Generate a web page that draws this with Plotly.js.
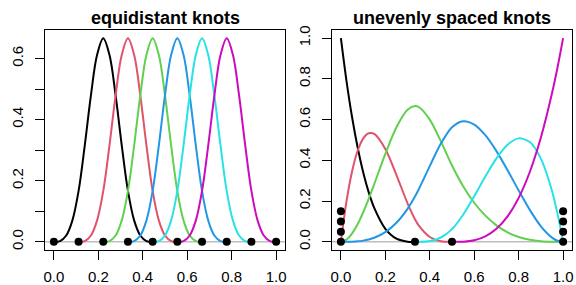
<!DOCTYPE html>
<html>
<head>
<meta charset="utf-8">
<script src="https://cdn.plot.ly/plotly-3.0.1.min.js"></script>
<style>html,body{margin:0;padding:0;background:#fff;}#chart{width:576px;height:285px;}</style>
</head>
<body>
<div id="chart"></div>
<script>
// ---------- data ----------
var seriesColors = ["#000000", "#DF536B", "#61D04F", "#2297E6", "#28E2E5", "#CD0BBC"];

// Left panel: equidistant knots
var eqKnots = [0, 0.1111, 0.2222, 0.3333, 0.4444, 0.5556, 0.6667, 0.7778, 0.8889, 1];
// one basis curve read at quarter knot spacing across its 4-interval support
var eqProfile = [0, 0.0026, 0.0208, 0.0703, 0.1667, 0.3151, 0.4792, 0.6120, 0.6667,
                 0.6120, 0.4792, 0.3151, 0.1667, 0.0703, 0.0208, 0.0026, 0];
var eqStartKnot = [0, 1, 2, 3, 4, 5];

// Right panel: unevenly spaced knots (repeated boundary knots)
var unKnotsX = [0, 0, 0, 0, 0.3333, 0.5, 1, 1, 1, 1];
var unKnotsY = [0, 0.05, 0.10, 0.15, 0, 0, 0, 0.05, 0.10, 0.15];
var unX = [0, 0.025, 0.05, 0.075, 0.1, 0.125, 0.15, 0.2, 0.25, 0.3, 0.3333, 0.35, 0.4, 0.45, 0.5,
           0.55, 0.6, 0.65, 0.7, 0.75, 0.8, 0.85, 0.9, 0.95, 0.975, 1];
var unB1 = [1, 0.7915, 0.6141, 0.4655, 0.343, 0.2441, 0.1664, 0.064, 0.0156, 0.001, 0,
            null, null, null, null, null, null, null, null, null, null, null, null, null, null, null];
var unB2 = [0, 0.1978, 0.3446, 0.4459, 0.507, 0.5332, 0.5299, 0.456, 0.3281, 0.189, 0.1111,
            0.081, 0.024, 0.003, 0, null, null, null, null, null, null, null, null, null, null, null];
var unB3 = [0, 0.0107, 0.0405, 0.0861, 0.144, 0.2109, 0.2835, 0.432, 0.5625, 0.648, 0.6667,
            0.6619, 0.600, 0.4931, 0.375, 0.2734, 0.192, 0.1286, 0.081, 0.0469, 0.024, 0.0101, 0.003, 0.0004, 0.0001, 0];
var unB4 = [0, 0.0001, 0.0008, 0.0025, 0.006, 0.0117, 0.0203, 0.048, 0.0938, 0.162, 0.2222,
            0.2571, 0.372, 0.4824, 0.5625, 0.5923, 0.576, 0.5237, 0.4455, 0.3516, 0.252, 0.1569, 0.0765, 0.0208, 0.0054, 0];
var unB5 = [null, null, null, null, null, null, null, null, null, null, 0,
            0.0001, 0.004, 0.0214, 0.0625, 0.1333, 0.224, 0.3207, 0.4095, 0.4766, 0.508, 0.4899, 0.4085, 0.2498, 0.1372, 0];
var unB6 = [null, null, null, null, null, null, null, null, null, null, null,
            null, null, null, 0, 0.001, 0.008, 0.027, 0.064, 0.125, 0.216, 0.343, 0.512, 0.729, 0.857, 1];

var xTickVals = [0, 0.2, 0.4, 0.6, 0.8, 1];
var xTickText = ["0.0", "0.2", "0.4", "0.6", "0.8", "1.0"];
var yLeftTickVals = [0, 0.1, 0.2, 0.3, 0.4, 0.5, 0.6];
var yLeftTickText = ["0.0", "", "0.2", "", "0.4", "", "0.6"];
var yRightTickVals = [0, 0.2, 0.4, 0.6, 0.8, 1];
var yRightTickText = ["0.0", "0.2", "0.4", "0.6", "0.8", "1.0"];
var titles = ["equidistant knots", "unevenly spaced knots"];

// ---------- traces ----------
var traces = [];
var h = eqKnots[1] - eqKnots[0];
eqStartKnot.forEach(function (k, i) {
  var xs = eqProfile.map(function (v, j) { return eqKnots[k] + j * h / 4; });
  traces.push({x: xs, y: eqProfile, type: "scatter", mode: "lines",
    line: {color: seriesColors[i], width: 2, shape: "spline", smoothing: 1},
    xaxis: "x", yaxis: "y", hoverinfo: "skip"});
});
traces.push({x: eqKnots, y: eqKnots.map(function () { return 0; }), type: "scatter", mode: "markers",
  marker: {color: "#000", size: 8}, xaxis: "x", yaxis: "y", cliponaxis: false});

[unB1, unB2, unB3, unB4, unB5, unB6].forEach(function (ys, i) {
  traces.push({x: unX, y: ys, type: "scatter", mode: "lines", connectgaps: false,
    line: {color: seriesColors[i], width: 2, shape: "spline", smoothing: 0.8},
    xaxis: "x2", yaxis: "y2", hoverinfo: "skip"});
});
traces.push({x: unKnotsX, y: unKnotsY, type: "scatter", mode: "markers",
  marker: {color: "#000", size: 8}, xaxis: "x2", yaxis: "y2", cliponaxis: false});

// ---------- layout ----------
var font = "Liberation Sans, Arial, Helvetica, sans-serif";
function xAxis(domain, anchor) {
  return {domain: domain, anchor: anchor, range: [-0.04, 1.04], tickvals: xTickVals, ticktext: xTickText,
    ticks: "outside", ticklen: 9, tickwidth: 1, tickcolor: "#000", showline: true, linecolor: "#000",
    linewidth: 1, mirror: true, showgrid: false, zeroline: false, ticklabelstandoff: 4,
    tickfont: {family: font, size: 15, color: "#000"}};
}
function yAxis(range, vals, text, anchor) {
  return {domain: [0, 1], anchor: anchor, range: range, tickvals: vals, ticktext: text,
    ticks: "outside", ticklen: 9, tickwidth: 1, tickcolor: "#000", showline: true, linecolor: "#000",
    linewidth: 1, mirror: true, showgrid: false, zeroline: false, tickangle: -90, ticklabelstandoff: 6,
    tickfont: {family: font, size: 15, color: "#000"}};
}
var dl = [0, 240 / 527], dr = [287 / 527, 1];
var layout = {
  width: 576, height: 285,
  margin: {l: 45, r: 4, t: 30, b: 35},
  paper_bgcolor: "#fff", plot_bgcolor: "#fff",
  showlegend: false,
  font: {family: font, color: "#000"},
  xaxis: xAxis(dl, "y"),
  yaxis: yAxis([-0.02667, 0.69333], yLeftTickVals, yLeftTickText, "x"),
  xaxis2: xAxis(dr, "y2"),
  yaxis2: yAxis([-0.04, 1.04], yRightTickVals, yRightTickText, "x2"),
  shapes: [
    {type: "line", xref: "x domain", yref: "y", x0: 0, x1: 1, y0: 0, y1: 0, layer: "below",
      line: {color: "#BEBEBE", width: 1.5}},
    {type: "line", xref: "x2 domain", yref: "y2", x0: 0, x1: 1, y0: 0, y1: 0, layer: "below",
      line: {color: "#BEBEBE", width: 1.5}}
  ],
  annotations: [
    {text: "<b>" + titles[0] + "</b>", xref: "paper", yref: "paper", x: (dl[0] + dl[1]) / 2, y: 1.056,
      xanchor: "center", yanchor: "middle", showarrow: false, font: {family: font, size: 18, color: "#000"}},
    {text: "<b>" + titles[1] + "</b>", xref: "paper", yref: "paper", x: (dr[0] + dr[1]) / 2, y: 1.056,
      xanchor: "center", yanchor: "middle", showarrow: false, font: {family: font, size: 18, color: "#000"}}
  ]
};
Plotly.newPlot("chart", traces, layout, {staticPlot: true, displayModeBar: false});
</script>
</body>
</html>
